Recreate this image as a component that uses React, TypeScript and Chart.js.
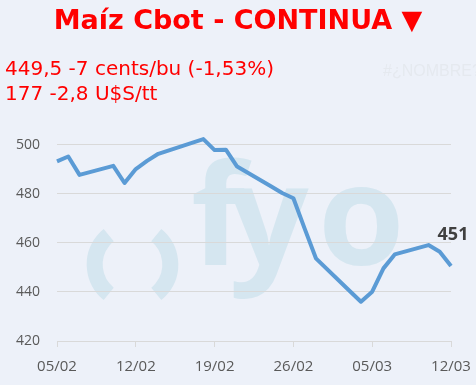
import React, { useEffect, useRef } from "react";
import { Chart, registerables } from "chart.js";

Chart.register(...registerables);

const dateLabels = ["05/02","06/02","07/02","10/02","11/02","12/02","13/02","14/02","18/02","19/02","20/02","21/02","24/02","25/02","26/02","27/02","28/02","03/03","04/03","05/03","06/03","07/03","10/03","11/03","12/03"];
const prices = [493.2,495.2,487.7,491.4,484.4,490.1,493.4,496.3,502.3,497.8,498.0,491.1,483.1,480.3,478.2,465.8,453.7,440.4,436.0,440.1,449.6,455.3,459.1,456.4,450.6];
const xTickLabels = ["05/02","12/02","19/02","26/02","05/03","12/03"];
const yTicks = [420, 440, 460, 480, 500];

const titleText = "Maíz Cbot - CONTINUA ▼";
const line1 = "449,5 -7 cents/bu (-1,53%)";
const line2 = "177 -2,8 U$S/tt";
const errText = "#¿NOMBRE?";

const BG = "#edf1f9";
const WM = "#d5e6f0";

function dayOffset(lbl: string): number {
  const [d, m] = lbl.split("/").map(Number);
  return m === 2 ? d - 5 : 23 + d;
}

export default function App() {
  const ref = useRef<HTMLCanvasElement | null>(null);
  useEffect(() => {
    document.body.style.margin = "0";
    const canvas = ref.current!;
    const pts = dateLabels.map((l, i) => ({ x: dayOffset(l), y: prices[i] }));

    const decor = {
      id: "decor",
      beforeDraw(chart: any) {
        const ctx = chart.ctx;
        ctx.save();
        ctx.fillStyle = BG;
        ctx.fillRect(0, 0, chart.width, chart.height);
        // watermark
        ctx.fillStyle = WM;
        ctx.strokeStyle = WM;
        ctx.lineWidth = 16;
        const cx = 132.5, cy = 264.5, r = 37.8;
        const a = (51 * Math.PI) / 180;
        ctx.beginPath();
        ctx.arc(cx, cy, r, Math.PI - a, Math.PI + a);
        ctx.stroke();
        ctx.beginPath();
        ctx.arc(cx, cy, r, -a, a);
        ctx.stroke();
        ctx.font = "bold 140px 'Open Sans'";
        ctx.textBaseline = "alphabetic";
        ctx.textAlign = "left";
        ctx.fillText("f", 191, 265);
        ctx.fillText("y", 229, 265);
        ctx.fillText("o", 318, 265);
        ctx.restore();
      },
      afterDraw(chart: any) {
        const ctx = chart.ctx;
        ctx.save();
        ctx.textBaseline = "alphabetic";
        ctx.fillStyle = "#ff0000";
        ctx.textAlign = "center";
        ctx.font = "bold 27px 'DejaVu Sans'";
        ctx.fillText(titleText, 238, 29);
        ctx.textAlign = "left";
        ctx.font = "20px 'DejaVu Sans'";
        ctx.fillText(line1, 5, 75);
        ctx.fillText(line2, 5, 100);
        ctx.fillStyle = "#e5e9ef";
        ctx.font = "16px 'Liberation Sans'";
        ctx.fillText(errText, 383, 76);
        // last value label
        const xs = chart.scales.x, ys = chart.scales.y;
        const last = pts[pts.length - 1];
        const px = xs.getPixelForValue(last.x);
        const py = ys.getPixelForValue(last.y);
        ctx.fillStyle = "#404040";
        ctx.textAlign = "center";
        ctx.font = "bold 18px 'Open Sans'";
        ctx.fillText(String(Math.round(last.y)), px + 2, py - 26);
        ctx.restore();
      },
    };

    const chart = new Chart(canvas, {
      type: "line",
      data: {
        datasets: [
          {
            data: pts,
            borderColor: "#5b9bd5",
            borderWidth: 4,
            pointRadius: 0,
            tension: 0,
            borderJoinStyle: "round",
            clip: false as any,
          },
        ],
      },
      options: {
        animation: false,
        responsive: false,
        maintainAspectRatio: false,
        layout: { padding: { left: 0, right: 25, top: 130, bottom: 0 } },
        plugins: { legend: { display: false }, tooltip: { enabled: false } },
        scales: {
          x: {
            type: "linear",
            min: 0,
            max: 35,
            afterFit: (s: any) => {
              s.height = 44;
              s.paddingLeft = 0;
              s.paddingRight = 0;
            },
            afterBuildTicks: (s: any) => {
              s.ticks = xTickLabels.map((_, i) => ({ value: i * 7 }));
            },
            ticks: {
              autoSkip: false,
              maxRotation: 0,
              padding: 11,
              color: "#595959",
              font: { family: "'Open Sans'", size: 15 },
              callback: (v: any) => xTickLabels[Math.round(Number(v) / 7)] ?? "",
            },
            grid: { drawOnChartArea: false, drawTicks: true, tickLength: 6, color: "#d9d9d9" },
            border: { display: true, color: "#d9d9d9", width: 1 },
          },
          y: {
            type: "linear",
            min: 420,
            max: 506,
            afterFit: (s: any) => {
              s.width = 57;
              s.paddingTop = 0;
              s.paddingBottom = 0;
            },
            afterBuildTicks: (s: any) => {
              s.ticks = yTicks.map((v) => ({ value: v }));
            },
            ticks: {
              padding: 17,
              color: "#595959",
              font: { family: "'Open Sans'", size: 14 },
            },
            grid: { drawTicks: false, color: "#d9d9d9" },
            border: { display: false },
          },
        },
      },
      plugins: [decor],
    } as any);
    return () => chart.destroy();
  }, []);
  return (
    <div style={{ width: 476, height: 385, background: BG }}>
      <canvas ref={ref} width={476} height={385} style={{ display: "block" }} />
    </div>
  );
}
